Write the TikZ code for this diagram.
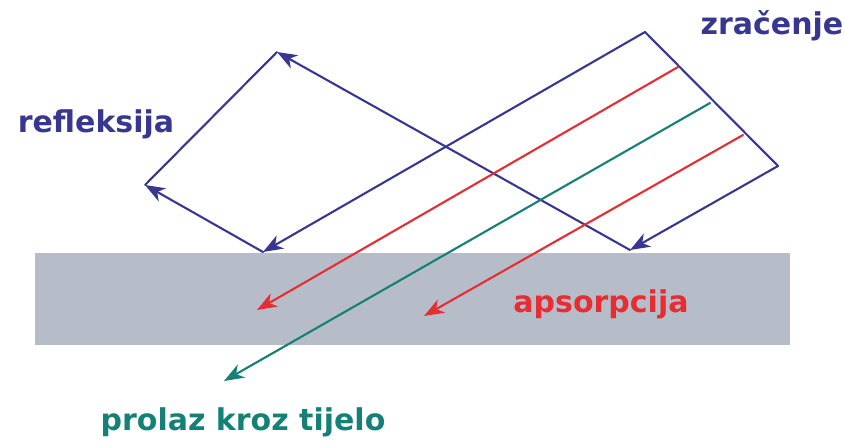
\documentclass[tikz,border=0pt]{standalone}
\usepackage{fontspec}
\setmainfont{DejaVu Sans}
\usetikzlibrary{arrows.meta}
\definecolor{zraka}{RGB}{55,55,145}
\definecolor{apsorp}{RGB}{230,45,50}
\definecolor{prolaz}{RGB}{20,128,118}
\definecolor{tijelo}{RGB}{182,189,201}
\tikzset{
	snop/.style={draw=zraka,line width=2.1pt},
	strelica/.style={-{Stealth[length=20pt,width=15pt,inset=6pt]}},
	natpis/.style={anchor=base,font=\fontsize{30}{34}\selectfont\bfseries}
}
\begin{document}
\begin{tikzpicture}[x=1pt,y=-1pt,line join=round,line cap=round]
			\useasboundingbox (0,0) rectangle (845,444);
			\fill[tijelo] (35,253) rectangle (790,345);
			% upadno zracenje
			\coordinate (Z1) at (645,32);
			\coordinate (Z2) at (778,166);
			\coordinate (R1) at (263,252);
			\coordinate (R2) at (630,250);
			\coordinate (L1) at (145,185);
			\coordinate (L2) at (277,52);
			\draw[snop] (Z2) -- (Z1);
			\draw[snop,strelica] (Z1) -- (R1);
			\draw[snop,strelica] (Z2) -- (R2);
			% refleksija
			\draw[snop,strelica] (R1) -- (L1);
			\draw[snop,strelica] (R2) -- (L2);
			\draw[snop] (L1) -- (L2);
			% apsorpcija i prolaz
			\coordinate (A1) at (678,67);
			\coordinate (P1) at (710,103);
			\coordinate (A2) at (743,135);
			\coordinate (A1k) at (257,310);
			\coordinate (P1k) at (224,381);
			\coordinate (A2k) at (424,316);
			\draw[snop,draw=apsorp,strelica] (A1) -- (A1k);
			\draw[snop,draw=prolaz,strelica] (P1) -- (P1k);
			\draw[snop,draw=apsorp,strelica] (A2) -- (A2k);
			% natpisi
			\node[natpis,text=zraka] (zr) at (772,35) {zračenje};
			\node[natpis,text=zraka] (ref) at (96,132) {refleksija};
			\node[natpis,text=apsorp] (aps) at (601,312) {apsorpcija};
			\node[natpis,text=prolaz] (pro) at (243,430) {prolaz kroz tijelo};
		\end{tikzpicture}
\end{document}
